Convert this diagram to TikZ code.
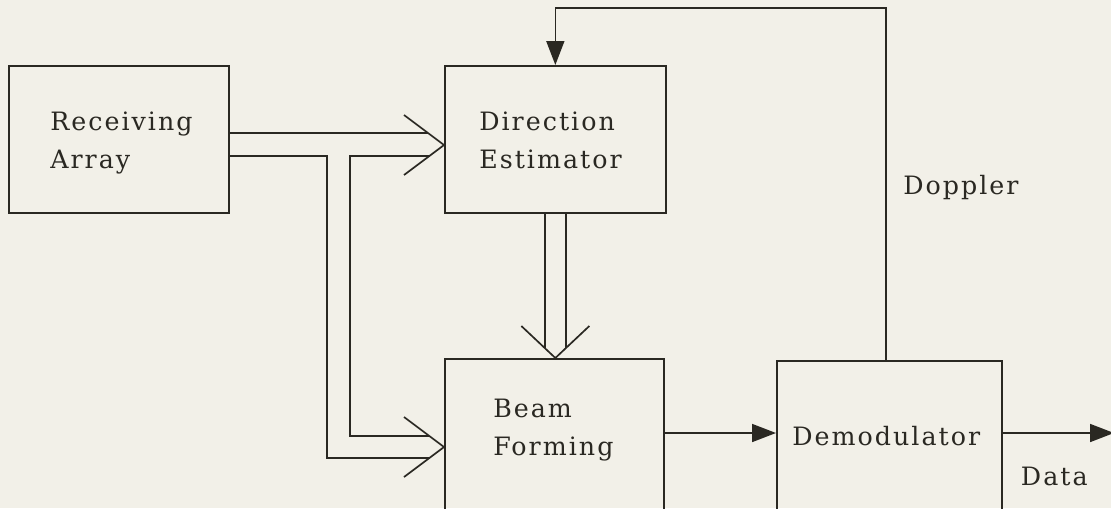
\documentclass[tikz,border=0pt]{standalone}
\usepackage{fontspec}
\setmainfont{DejaVu Serif}[LetterSpace=8]
\usetikzlibrary{arrows.meta,positioning,calc}
\definecolor{ink}{HTML}{2A2822}
\definecolor{paper}{HTML}{F2F0E8}
\tikzset{
  blk/.style ={draw=ink, line width=1.2pt, rectangle, anchor=north west, inner sep=0pt},
  txt/.style ={text=ink, align=left, inner sep=0pt, anchor=base west, font=\fontsize{18}{27}\selectfont},
  ln/.style  ={draw=ink, line width=1.2pt, line join=miter},
  ar/.style  ={ln, -{Triangle[length=6mm, width=4.5mm]}},
}
\begin{document}
\begin{tikzpicture}[x=1mm,y=1mm]
\fill[paper] (0,0) rectangle (277.75,-127);
\clip (0,0) rectangle (277.75,-127);
% blocks
\node[blk, minimum width=55mm, minimum height=36.75mm] (recv) at (2,-16.25) {};
\node[blk, minimum width=55.25mm, minimum height=36.75mm] (dir) at (111,-16.25) {};
\node[blk, minimum width=54.75mm, minimum height=45mm] (beam) at (111,-89.5) {};
\node[blk, minimum width=56.25mm, minimum height=45mm] (demod) at (194,-90) {};
\node[txt] (recvt) at ($(recv.north west)+(10.5,-25.75)$) {Receiving\\Array};
\node[txt] (dirt) at ($(dir.north west)+(8.75,-25.75)$) {Direction\\Estimator};
\node[txt] (beamt) at ($(beam.north west)+(12.25,-24.25)$) {Beam\\Forming};
\node[txt] (demodt) at ($(demod.north west)+(4,-21.25)$) {Demodulator};
% bus into direction estimator and beam forming
\coordinate (dtip) at ($(dir.north west)+(0,-20)$);
\coordinate (btip) at ($(beam.north west)+(0,-22.25)$);
\coordinate (ttip) at (dir.south |- beam.north);
\draw[ln] ($(dtip)+(-10,7.5)$) -- (dtip) -- ($(dtip)+(-10,-7.5)$);
\draw[ln] ($(btip)+(-10,7.5)$) -- (btip) -- ($(btip)+(-10,-7.5)$);
\draw[ln] ($(ttip)+(-8.5,8)$) -- (ttip) -- ($(ttip)+(8.5,8)$);
\draw[ln] ($(recv.north east)+(0,-17)$) -- ($(dtip)+(-4,3)$);
\draw[ln] ($(recv.north east)+(0,-22.75)$) -| ($(btip)+(-29.25,-2.75)$) -- ($(btip)+(-3.67,-2.75)$);
\draw[ln] ($(dtip)+(-3.67,-2.75)$) -| ($(btip)+(-23.5,2.75)$) -- ($(btip)+(-3.67,2.75)$);
\draw[ln] ($(dir.south)+(-2.6,0)$) -- ($(ttip)+(-2.6,2.45)$);
\draw[ln] ($(dir.south)+(2.6,0)$) -- ($(ttip)+(2.6,2.45)$);
% doppler feedback
\coordinate (dopout) at ($(demod.north west)+(27.5,0)$);
\draw[ar] (dopout) |- ($(dir.north)+(0,14.25)$) -- (dir.north);
\node[txt] (dopt) at ($(dopout)+(4.25,41.5)$) {Doppler};
% signal path
\coordinate (bfo) at ($(beam.north east)+(0,-18.75)$);
\draw[ar] (bfo) -- (bfo -| demod.west);
\coordinate (dmo) at ($(demod.north east)+(0,-18.25)$);
\coordinate (dataend) at (278.5,-108.25);
\draw[ar] (dmo) -- (dmo -| dataend);
\node[txt] (datat) at ($(demod.north east)+(4.5,-31.25)$) {Data};
\end{tikzpicture}
\end{document}
